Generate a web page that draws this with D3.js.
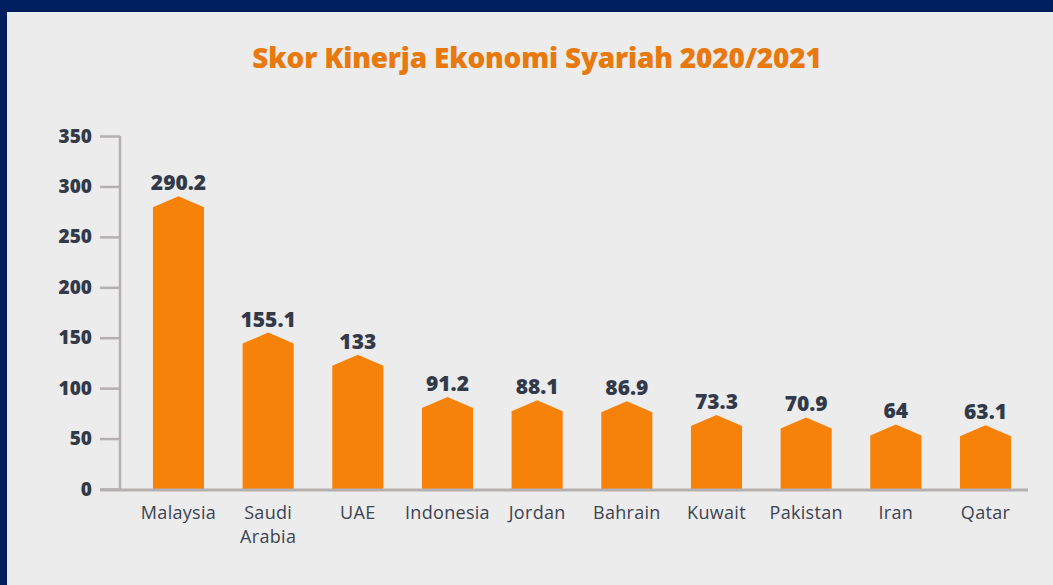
<!DOCTYPE html>
<html>
<head>
<meta charset="utf-8">
<script src="https://cdn.jsdelivr.net/npm/d3@7"></script>
<style>
  body { margin: 0; background: #001f5f; }
  svg { display: block; }
</style>
</head>
<body>
<svg id="chart" width="1053" height="585"></svg>
<script>
// values
var countries = ["Malaysia", "Saudi Arabia", "UAE", "Indonesia", "Jordan", "Bahrain", "Kuwait", "Pakistan", "Iran", "Qatar"];
var scores = [290.2, 155.1, 133, 91.2, 88.1, 86.9, 73.3, 70.9, 64, 63.1];
var labels = ["290.2", "155.1", "133", "91.2", "88.1", "86.9", "73.3", "70.9", "64", "63.1"];
var yTicks = [0, 50, 100, 150, 200, 250, 300, 350];

var svg = d3.select("#chart");

// navy frame, grey panel
svg.append("rect").attr("width", 1053).attr("height", 585).attr("fill", "#001f5f");
svg.append("rect").attr("x", 7).attr("y", 12).attr("width", 1046).attr("height", 573).attr("fill", "#ececec");

svg.append("text")
  .attr("x", 537).attr("y", 68)
  .attr("text-anchor", "middle")
  .attr("font-family", "Open Sans")
  .attr("font-weight", 800)
  .attr("font-size", 28)
  .attr("letter-spacing", -0.2)
  .attr("fill", "#e8790f")
  .text("Skor Kinerja Ekonomi Syariah 2020/2021");

var x = d3.scaleBand().domain(countries).range([135, 1029]).paddingInner(0.43).paddingOuter(0.2);
var y = d3.scaleLinear().domain([0, 350]).range([489, 136]);

// y axis
var yAxis = svg.append("g").attr("transform", "translate(120,0)")
  .call(d3.axisLeft(y).tickValues(yTicks).tickSize(20).tickPadding(8).tickFormat(d3.format("d")));
yAxis.select(".domain").attr("stroke", "#b5afaf").attr("stroke-width", 2.5).attr("d", "M0," + y(350) + "V" + y(0));
yAxis.selectAll(".tick line").attr("stroke", "#b5afaf").attr("stroke-width", 2.5);
yAxis.selectAll(".tick text")
  .attr("font-family", "Open Sans").attr("font-weight", 800).attr("font-size", 19)
  .attr("fill", "#323a4a");

// bars with pointed tops
var roof = 11;
svg.append("g").selectAll("path").data(countries).join("path")
  .attr("fill", "#f7820a")
  .attr("d", function(d, i) {
    var x0 = x(d), x1 = x(d) + x.bandwidth(), xc = x(d) + x.bandwidth() / 2;
    var top = y(scores[i]);
    return "M" + x0 + "," + y(0) + "V" + (top + roof) + "L" + xc + "," + top +
      "L" + x1 + "," + (top + roof) + "V" + y(0) + "Z";
  });

// baseline
svg.append("line")
  .attr("x1", 100).attr("x2", 1028).attr("y1", y(0) + 1).attr("y2", y(0) + 1)
  .attr("stroke", "#b5afaf").attr("stroke-width", 3);

// value labels
svg.append("g").selectAll("text").data(countries).join("text")
  .attr("x", function(d) { return x(d) + x.bandwidth() / 2; })
  .attr("y", function(d, i) { return y(scores[i]) - 6; })
  .attr("text-anchor", "middle")
  .attr("font-family", "Open Sans").attr("font-weight", 800).attr("font-size", 21)
  .attr("fill", "#323a4a")
  .text(function(d, i) { return labels[i]; });

// category labels, split on space for Saudi Arabia
svg.append("g").selectAll("text").data(countries).join("text")
  .attr("x", function(d) { return x(d) + x.bandwidth() / 2; })
  .attr("y", 519)
  .attr("text-anchor", "middle")
  .attr("font-family", "Open Sans").attr("font-size", 18)
  .attr("letter-spacing", 0.3)
  .attr("fill", "#3c4352")
  .each(function(d) {
    var parts = d == "Saudi Arabia" ? ["Saudi", "Arabia"] : [d];
    var t = d3.select(this);
    parts.forEach(function(p, k) {
      t.append("tspan").attr("x", t.attr("x")).attr("dy", k == 0 ? 0 : 24).text(p);
    });
  });
</script>
</body>
</html>
